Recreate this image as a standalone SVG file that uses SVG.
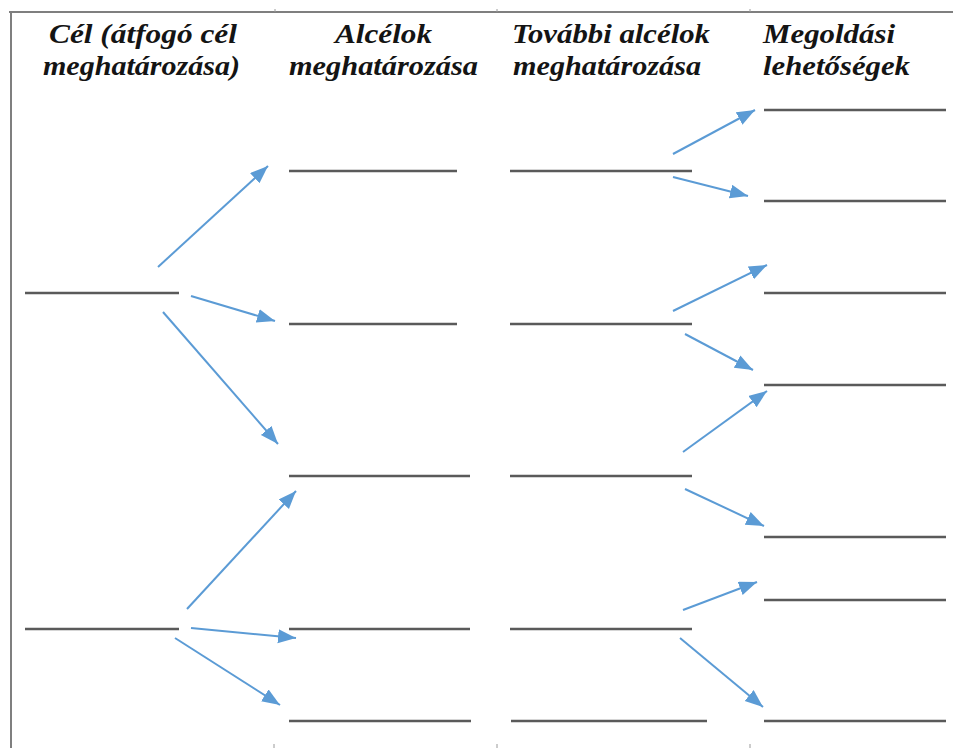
<svg xmlns="http://www.w3.org/2000/svg" width="953" height="748" viewBox="0 0 953 748">
<style>
.hdr{font-family:"Liberation Serif","Times New Roman",serif;font-weight:bold;font-style:italic;font-size:27px;fill:#141414}
.slot{stroke:#5a5a5a;stroke-width:2.5;fill:none}
.arr{stroke:#5b9bd5;stroke-width:2;fill:none;marker-end:url(#ah)}
.frame{stroke:#7f7f7f;stroke-width:2;fill:none}
.tick{stroke:#9a9a9a;stroke-width:1;fill:none}
</style>
<defs>
<marker id="ah" markerUnits="userSpaceOnUse" markerWidth="20" markerHeight="16" refX="18" refY="7" orient="auto">
<path d="M0,0 L18,7 L0,14 z" fill="#5b9bd5"/>
</marker>
</defs>
<rect width="953" height="748" fill="#ffffff"/>
<g id="frame">
<line class="frame" x1="9" y1="12" x2="953" y2="12"/>
<line class="frame" x1="11" y1="12" x2="11" y2="748"/>
<line class="tick" x1="275" y1="9" x2="275" y2="12"/>
<line class="tick" x1="497" y1="9" x2="497" y2="12"/>
<line class="tick" x1="750" y1="9" x2="750" y2="12"/>
<line class="tick" x1="274" y1="744" x2="274" y2="748"/>
<line class="tick" x1="497" y1="744" x2="497" y2="748"/>
<line class="tick" x1="750" y1="744" x2="750" y2="748"/>
</g>
<g id="headers">
<text class="hdr" x="49" y="43" textLength="188" lengthAdjust="spacingAndGlyphs">Cél (átfogó cél</text>
<text class="hdr" x="43" y="75" textLength="197" lengthAdjust="spacingAndGlyphs">meghatározása)</text>
<text class="hdr" x="335" y="43" textLength="97" lengthAdjust="spacingAndGlyphs">Alcélok</text>
<text class="hdr" x="289" y="75" textLength="189" lengthAdjust="spacingAndGlyphs">meghatározása</text>
<text class="hdr" x="512" y="43" textLength="198" lengthAdjust="spacingAndGlyphs">További alcélok</text>
<text class="hdr" x="513" y="75" textLength="188" lengthAdjust="spacingAndGlyphs">meghatározása</text>
<text class="hdr" x="763" y="43" textLength="132" lengthAdjust="spacingAndGlyphs">Megoldási</text>
<text class="hdr" x="763" y="75" textLength="147" lengthAdjust="spacingAndGlyphs">lehetőségek</text>
</g>
<g id="goal-1"><line class="slot" x1="25" y1="293" x2="179" y2="293"/></g>
<g id="goal-2"><line class="slot" x1="25" y1="629" x2="179" y2="629"/></g>
<g id="sub-1"><line class="slot" x1="289" y1="171" x2="457" y2="171"/></g>
<g id="sub-2"><line class="slot" x1="289" y1="324" x2="457" y2="324"/></g>
<g id="sub-3"><line class="slot" x1="289" y1="476" x2="470" y2="476"/></g>
<g id="sub-4"><line class="slot" x1="289" y1="629" x2="470" y2="629"/></g>
<g id="sub-5"><line class="slot" x1="289" y1="721" x2="471" y2="721"/></g>
<g id="further-1"><line class="slot" x1="510" y1="171" x2="692" y2="171"/></g>
<g id="further-2"><line class="slot" x1="510" y1="324" x2="692" y2="324"/></g>
<g id="further-3"><line class="slot" x1="510" y1="476" x2="692" y2="476"/></g>
<g id="further-4"><line class="slot" x1="510" y1="629" x2="692" y2="629"/></g>
<g id="further-5"><line class="slot" x1="511" y1="721" x2="707" y2="721"/></g>
<g id="option-1"><line class="slot" x1="764" y1="110" x2="946" y2="110"/></g>
<g id="option-2"><line class="slot" x1="764" y1="201" x2="946" y2="201"/></g>
<g id="option-3"><line class="slot" x1="764" y1="293" x2="946" y2="293"/></g>
<g id="option-4"><line class="slot" x1="764" y1="385" x2="946" y2="385"/></g>
<g id="option-5"><line class="slot" x1="764" y1="537" x2="946" y2="537"/></g>
<g id="option-6"><line class="slot" x1="764" y1="600" x2="946" y2="600"/></g>
<g id="option-7"><line class="slot" x1="764" y1="721" x2="946" y2="721"/></g>
<g id="connectors">
<line class="arr" x1="158" y1="267" x2="268" y2="166"/>
<line class="arr" x1="191" y1="296" x2="275" y2="321"/>
<line class="arr" x1="163" y1="312" x2="278" y2="444"/>
<line class="arr" x1="187" y1="609" x2="296" y2="491"/>
<line class="arr" x1="191" y1="628" x2="296" y2="638"/>
<line class="arr" x1="175" y1="638" x2="280" y2="705"/>
<line class="arr" x1="673" y1="154" x2="755" y2="110"/>
<line class="arr" x1="673" y1="177" x2="748" y2="196"/>
<line class="arr" x1="673" y1="311" x2="767" y2="265"/>
<line class="arr" x1="685" y1="334" x2="753" y2="370"/>
<line class="arr" x1="683" y1="452" x2="767" y2="391"/>
<line class="arr" x1="685" y1="489" x2="764" y2="526"/>
<line class="arr" x1="683" y1="610" x2="757" y2="582"/>
<line class="arr" x1="680" y1="638" x2="763" y2="707"/>
</g>
</svg>
